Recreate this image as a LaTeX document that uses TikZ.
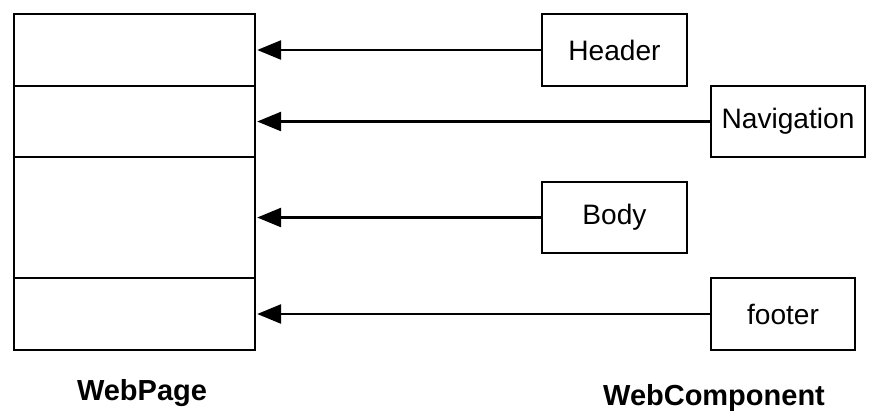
\documentclass[tikz,border=0pt]{standalone}
\usepackage{fontspec}
\setmainfont{Liberation Sans}
\usetikzlibrary{shapes,arrows.meta,positioning}

\tikzset{
  part/.style={draw, line width=1.5pt, minimum width=4.82cm, inner sep=0pt},
  comp/.style={draw, line width=1.5pt, inner sep=0pt, font=\fontsize{16}{19}\selectfont},
  link/.style={line width=1.5pt, shorten >=0.5pt, -{Triangle[length=0.48cm,width=0.38cm]}},
  title/.style={anchor=base, font=\fontsize{16.5}{20}\selectfont\bfseries}
}

\begin{document}
\begin{tikzpicture}[x=0.02cm, y=-0.02cm]
    \useasboundingbox (0,0) rectangle (869,410);
    \node[part, minimum height=1.44cm] (pHead) at (134.5,50) {};
    \node[part, minimum height=1.42cm] (pNav) at (134.5,121.5) {};
    \node[part, minimum height=2.42cm] (pBody) at (134.5,217.5) {};
    \node[part, minimum height=1.44cm] (pFoot) at (134.5,314) {};
    \node[comp, minimum width=2.9cm, minimum height=1.44cm] (header) at (614.5,50) {Header};
    \node[comp, minimum width=3.08cm, minimum height=1.42cm] (navigation) at (788,121.5) {Navigation};
    \node[comp, minimum width=2.9cm, minimum height=1.42cm] (body) at (614.5,217.5) {Body};
    \node[comp, minimum width=2.88cm, minimum height=1.44cm] (footer) at (783,314) {footer};
    \draw[link] (header) -- (pHead);
    \draw[link] (navigation) -- (pNav);
    \draw[link] (body) -- (pBody);
    \draw[link] (footer) -- (pFoot);
    \node[title] (pageLbl) at (142,400) {WebPage};
    \node[title] (compLbl) at (714,405) {WebComponent};
  \end{tikzpicture}
\end{document}
